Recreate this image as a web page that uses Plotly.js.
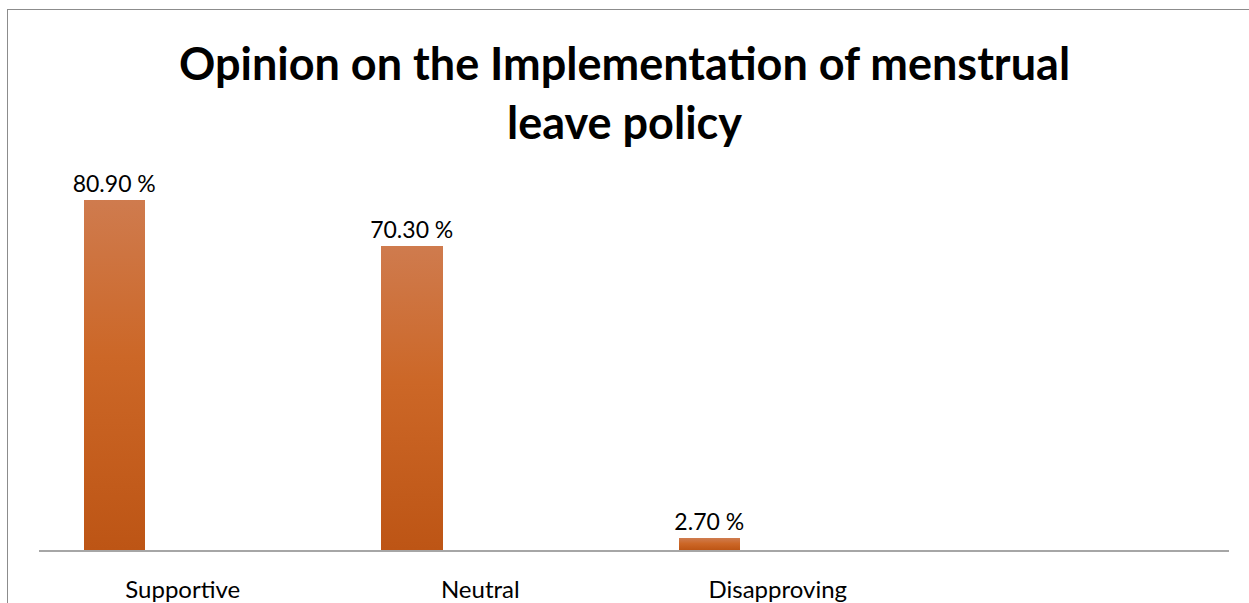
<!DOCTYPE html>
<html>
<head>
<meta charset="utf-8">
<script src="https://cdn.plot.ly/plotly-3.0.1.min.js"></script>
<style>
  html, body { margin: 0; padding: 0; background: #ffffff; overflow: hidden; }
  #wrap { position: relative; width: 1249px; height: 603px; }
  #chart { width: 1249px; height: 603px; }
  #frame { position: absolute; left: 7px; top: 9px; width: 1400px; height: 800px;
           border-top: 1px solid #8c8c8c; border-left: 1px solid #8c8c8c; pointer-events: none; }
</style>
</head>
<body>
<div id="wrap">
  <div id="chart"></div>
  <div id="frame"></div>
</div>
<script>
// ---- data ----
const categories = ["Supportive", "Neutral", "Disapproving"];
const values = [80.9, 70.3, 2.7];
const categoryPositions = [0, 1, 2];
const chartTitle = "Opinion on the Implementation of menstrual<br>leave policy";

const trace = {
  type: "bar",
  x: categoryPositions,
  y: values,
  offset: -0.3504,
  width: 0.2067,
  marker: { color: "#c8621f", line: { width: 0 } },
  texttemplate: "%{y:.2f} %",
  textposition: "outside",
  constraintext: "none",
  cliponaxis: false,
  textfont: { family: "Lato, 'Open Sans', sans-serif", size: 23, color: "#000000" },
  hoverinfo: "skip",
  showlegend: false
};

const layout = {
  width: 1249,
  height: 603,
  margin: { l: 39, r: 20, t: 117, b: 53, pad: 0 },
  paper_bgcolor: "#ffffff",
  plot_bgcolor: "#ffffff",
  title: {
    text: chartTitle,
    font: { family: "Lato, 'Open Sans', sans-serif", size: 45, color: "#000000", weight: 700 },
    x: 0.5,
    xref: "container",
    xanchor: "center",
    y: 1 - 80 / 603,
    yref: "container",
    yanchor: "top"
  },
  xaxis: {
    range: [-0.5, 3.5],
    tickmode: "array",
    tickvals: categoryPositions,
    ticktext: categories,
    showgrid: false,
    zeroline: false,
    showline: true,
    linecolor: "#a6a6a6",
    linewidth: 2,
    ticks: "",
    ticklabelshift: -5,
    ticklabelstandoff: 17,
    tickfont: { family: "Lato, 'Open Sans', sans-serif", size: 24, color: "#000000" },
    fixedrange: true
  },
  yaxis: {
    range: [0, 100],
    visible: false,
    showgrid: false,
    zeroline: false,
    fixedrange: true
  },
  bargap: 0
};

Plotly.newPlot("chart", [trace], layout, { staticPlot: true, displayModeBar: false }).then(function (gd) {
  const svg = gd.querySelector("svg.main-svg");
  const ns = "http://www.w3.org/2000/svg";
  let defs = svg.querySelector("defs");
  if (!defs) { defs = document.createElementNS(ns, "defs"); svg.insertBefore(defs, svg.firstChild); }
  const grad = document.createElementNS(ns, "linearGradient");
  grad.setAttribute("id", "barGrad");
  grad.setAttribute("x1", "0"); grad.setAttribute("y1", "0");
  grad.setAttribute("x2", "0"); grad.setAttribute("y2", "1");
  [["0", "#cf7b4e"], ["0.45", "#cc6727"], ["1", "#bd5515"]].forEach(function (s) {
    const st = document.createElementNS(ns, "stop");
    st.setAttribute("offset", s[0]);
    st.setAttribute("stop-color", s[1]);
    grad.appendChild(st);
  });
  defs.appendChild(grad);
  gd.querySelectorAll(".bars .point path").forEach(function (p) {
    p.style.fill = "url(#barGrad)";
  });
});
</script>
</body>
</html>
